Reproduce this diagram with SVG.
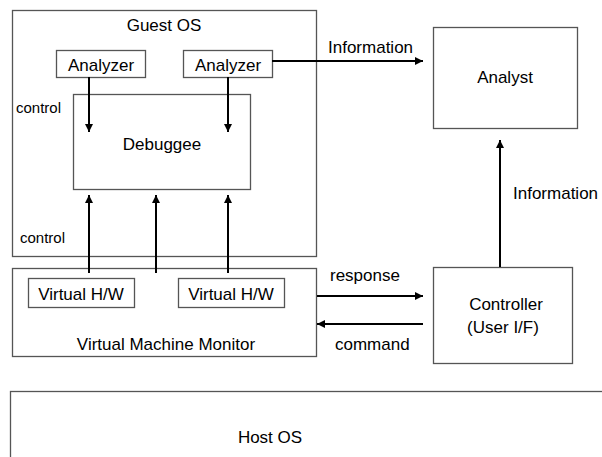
<svg xmlns="http://www.w3.org/2000/svg" width="602" height="457" viewBox="0 0 602 457">
  <style>
    .box { fill: #ffffff; stroke: #555555; stroke-width: 1.3; }
    .lbl { font-family: "Liberation Sans", Arial, sans-serif; font-size: 17px; fill: #000000; }
    .mid { text-anchor: middle; }
    .small { font-size: 15px; }
    .wire { stroke: #000000; stroke-width: 2; fill: none; }
  </style>
  <defs>
    <marker id="arrow" viewBox="0 0 10 10" refX="10" refY="5" markerWidth="4" markerHeight="4" orient="auto" markerUnits="strokeWidth">
      <path d="M0,0 L10,5 L0,10 z" fill="#000000"/>
    </marker>
  </defs>

  <rect width="602" height="457" fill="#ffffff"/>

  <g id="host-os">
    <rect class="box" x="10.5" y="391.5" width="600" height="80"/>
    <text class="lbl mid" x="270" y="443">Host OS</text>
  </g>

  <g id="guest-os">
    <rect class="box" x="12.5" y="10.5" width="304" height="246"/>
    <text class="lbl mid" x="164" y="31">Guest OS</text>
    <text class="lbl small" x="16" y="113">control</text>
    <text class="lbl small" x="20" y="243">control</text>
  </g>

  <g id="vmm">
    <rect class="box" x="12.5" y="268.5" width="304" height="88"/>
    <text class="lbl mid" x="166" y="350">Virtual Machine Monitor</text>
  </g>

  <g id="analyzer-1">
    <rect class="box" x="56.5" y="50.5" width="89" height="27"/>
    <text class="lbl mid" x="101" y="71">Analyzer</text>
  </g>

  <g id="analyzer-2">
    <rect class="box" x="183.5" y="50.5" width="89" height="27"/>
    <text class="lbl mid" x="228" y="71">Analyzer</text>
  </g>

  <g id="debuggee">
    <rect class="box" x="73.5" y="94.5" width="177" height="95"/>
    <text class="lbl mid" x="162" y="150">Debuggee</text>
  </g>

  <g id="virtual-hw-1">
    <rect class="box" x="28.5" y="278.5" width="106" height="29"/>
    <text class="lbl mid" x="81" y="300">Virtual H/W</text>
  </g>

  <g id="virtual-hw-2">
    <rect class="box" x="178.5" y="278.5" width="106" height="29"/>
    <text class="lbl mid" x="231" y="300">Virtual H/W</text>
  </g>

  <g id="analyst">
    <rect class="box" x="433.5" y="27.5" width="144" height="101"/>
    <text class="lbl mid" x="505" y="83">Analyst</text>
  </g>

  <g id="controller">
    <rect class="box" x="433.5" y="267.5" width="139" height="96"/>
    <text class="lbl mid" x="506" y="310">Controller</text>
    <text class="lbl mid" x="503" y="333">(User I/F)</text>
  </g>

  <g id="connectors">
    <!-- analyzers control the debuggee -->
    <line class="wire" x1="89" y1="77" x2="89" y2="132" marker-end="url(#arrow)"/>
    <line class="wire" x1="228" y1="77" x2="228" y2="132" marker-end="url(#arrow)"/>
    <!-- virtual hardware controls the debuggee -->
    <line class="wire" x1="89" y1="273" x2="89" y2="195" marker-end="url(#arrow)"/>
    <line class="wire" x1="156" y1="273" x2="156" y2="195" marker-end="url(#arrow)"/>
    <line class="wire" x1="228" y1="273" x2="228" y2="195" marker-end="url(#arrow)"/>
    <!-- information to the analyst -->
    <line class="wire" x1="272" y1="61" x2="423" y2="61" marker-end="url(#arrow)"/>
    <text class="lbl" x="328" y="53">Information</text>
    <line class="wire" x1="500" y1="267" x2="500" y2="140" marker-end="url(#arrow)"/>
    <text class="lbl" x="513" y="199">Information</text>
    <!-- VMM and controller exchange -->
    <line class="wire" x1="317" y1="296" x2="423" y2="296" marker-end="url(#arrow)"/>
    <text class="lbl" x="330" y="281">response</text>
    <line class="wire" x1="423" y1="324" x2="317" y2="324" marker-end="url(#arrow)"/>
    <text class="lbl" x="335" y="350">command</text>
  </g>
</svg>
